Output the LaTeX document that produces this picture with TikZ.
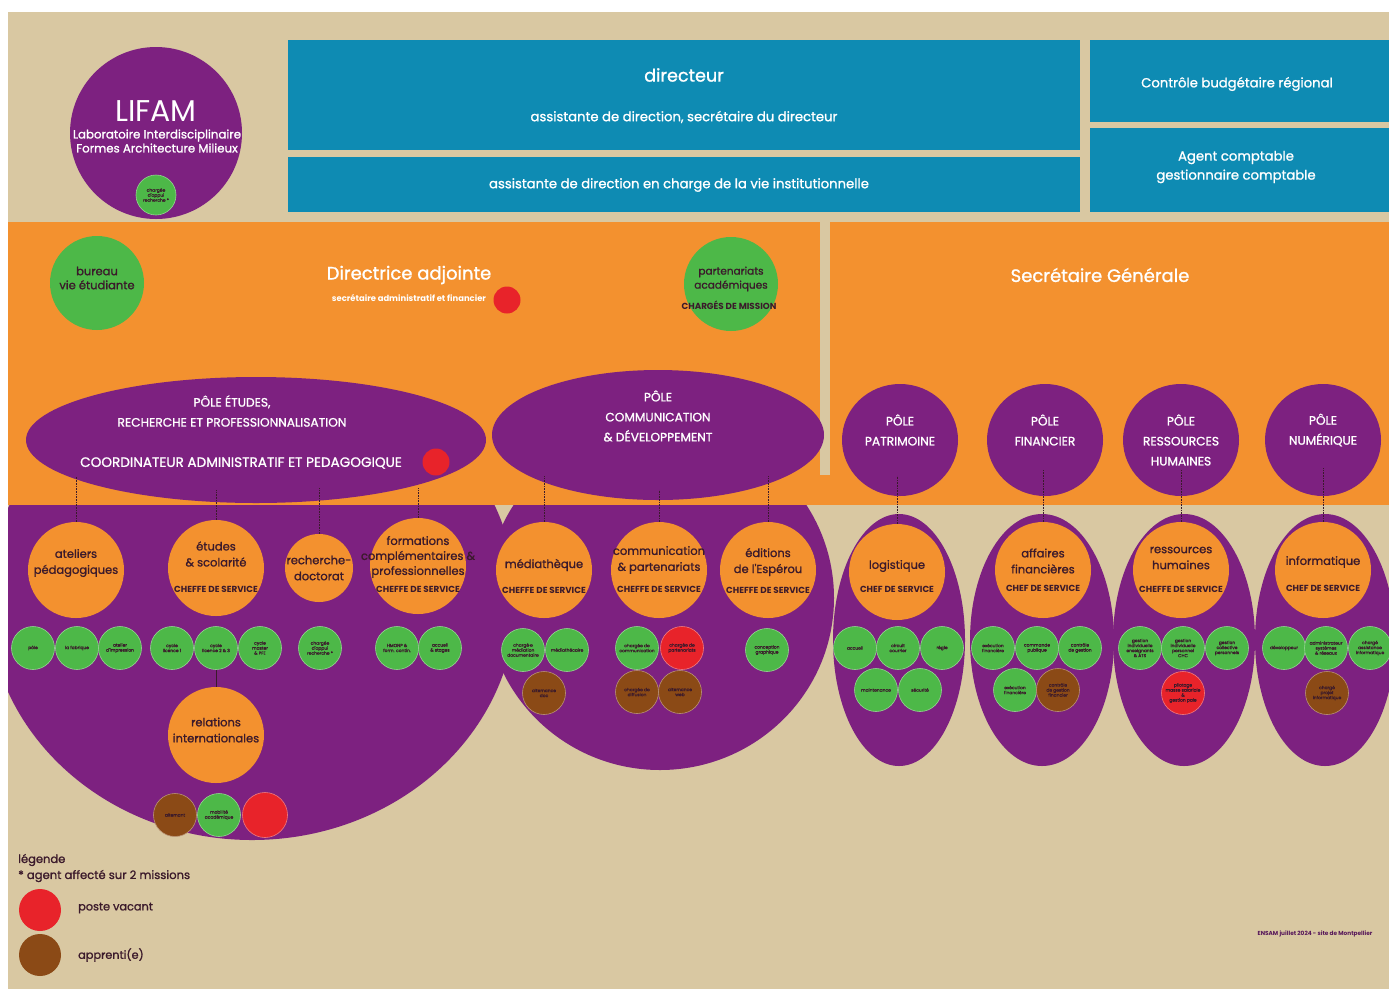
\documentclass[tikz,border=0pt]{standalone}
\usepackage{fontspec}
\setmainfont{Poppins}
\newfontfamily\pmfont{Poppins}[FakeBold=1.2]
\usetikzlibrary{shapes.geometric}
\definecolor{cbg}{HTML}{D9C8A2}
\definecolor{cblue}{HTML}{0E8BB3}
\definecolor{cpurple}{HTML}{7D2180}
\definecolor{corange}{HTML}{F3912F}
\definecolor{cgreen}{HTML}{4DB848}
\definecolor{cred}{HTML}{E8232A}
\definecolor{cbrown}{HTML}{8B4A16}
\definecolor{cdark}{HTML}{3B1A2B}
\begin{document}
\begin{tikzpicture}[x=1pt,y=-1pt,
  bluebox/.style={rectangle,fill=cblue,inner sep=0pt},
  wtext/.style={text=white,align=center,inner sep=0pt},
  dtext/.style={text=cdark,align=center,inner sep=0pt},
  pole/.style={ellipse,fill=cpurple,inner sep=0pt},
  ptext/.style={text=white,align=center,inner sep=0pt,font=\pmfont\fontsize{12.2}{20}\selectfont},
  svc/.style={circle,fill=corange,minimum size=96pt,inner sep=0pt},
  stext/.style={text=cdark,align=center,inner sep=0pt,font=\pmfont\fontsize{11.5}{16}\selectfont},
  role/.style={text=cdark,inner sep=0pt,font=\fontsize{8.8}{10}\selectfont\bfseries},
  agent/.style={circle,fill=cgreen,draw=cgreen!60!white,line width=0.6pt,minimum size=43pt,inner sep=0pt,align=center,text=cdark,font=\pmfont\fontsize{4.4}{5}\selectfont},
  vac/.style={agent,fill=cred,draw=cred!60!white},
  app/.style={agent,fill=cbrown,draw=cbrown!60!white},
  dotline/.style={draw=cdark,densely dotted,line width=0.6pt},
  link/.style={draw=cdark,line width=0.5pt}]
\useasboundingbox (0,0) rectangle (1389,989);
\fill[white] (0,0) rectangle (1389,989);
\fill[cbg] (8,12) rectangle (1389,989);

% lower purple blobs
\begin{scope}
\clip (8,12) rectangle (1389,989);
\fill[cpurple] (252,600) ellipse [x radius=264pt, y radius=240pt];
\fill[cpurple] (660,598) ellipse [x radius=174pt, y radius=172pt];
\fill[cpurple] (899,640) ellipse [x radius=66pt, y radius=126pt];
\fill[cpurple] (1042,640) ellipse [x radius=72pt, y radius=126pt];
\fill[cpurple] (1184,640) ellipse [x radius=71pt, y radius=126pt];
\fill[cpurple] (1325,640) ellipse [x radius=70pt, y radius=126pt];
\end{scope}

% orange band
\fill[corange] (8,222) rectangle (1389,505);
\fill[cbg] (820,222) rectangle (830,475);

% top blue boxes
\node[bluebox,minimum width=792pt,minimum height=110pt] (dirbox) at (684,95) {};
\node[wtext,font=\pmfont\fontsize{17.6}{18}\selectfont] (dirT) at (684,75) {directeur};
\node[wtext,font=\pmfont\fontsize{13.2}{14}\selectfont] (dirS) at (684,117) {assistante de direction, secrétaire du directeur};
\node[bluebox,minimum width=792pt,minimum height=55pt] (viebox) at (684,184.5) {};
\node[wtext,font=\pmfont\fontsize{13.2}{14}\selectfont] (vieT) at (679,185) {assistante de direction en charge de la vie institutionnelle};
\node[bluebox,minimum width=299pt,minimum height=82pt] (ctrlbox) at (1239.5,81) {};
\node[wtext,font=\pmfont\fontsize{13.2}{14}\selectfont] (ctrlT) at (1237,84) {Contrôle budgétaire régional};
\node[bluebox,minimum width=299pt,minimum height=84pt] (agbox) at (1239.5,170) {};
\node[wtext,font=\pmfont\fontsize{13.2}{19}\selectfont] (agT) at (1236,167) {Agent comptable\\gestionnaire comptable};

% LIFAM
\node[circle,fill=cpurple,minimum size=172pt,inner sep=0pt] (lifam) at (156,133) {};
\node[wtext,font=\fontsize{30}{32}\selectfont] (lifamT) at (156,111) {LIFAM};
\node[wtext,font=\pmfont\fontsize{11.8}{14}\selectfont] (lifamS) at (157,141) {Laboratoire Interdisciplinaire\\Formes Architecture Milieux};
\node[agent,minimum size=40pt] (lifamA) at (156,195) {chargée\\d'appui\\recherche *};

% orange band contents
\node[circle,fill=cgreen,minimum size=94pt,inner sep=0pt] (bve) at (97,283) {};
\node[dtext,font=\pmfont\fontsize{11.5}{14}\selectfont] (bveT) at (97,278) {bureau\\vie étudiante};
\node[wtext,font=\pmfont\fontsize{18}{18}\selectfont] (dadj) at (409,275) {Directrice adjointe};
\node[wtext,font=\fontsize{8.4}{9}\selectfont\bfseries] (dadjS) at (409,298) {secrétaire administratif et financier};
\node[circle,fill=cred,minimum size=27pt,inner sep=0pt] (dadjV) at (507,300) {};
\node[circle,fill=cgreen,minimum size=94pt,inner sep=0pt] (part) at (731,284) {};
\node[dtext,font=\pmfont\fontsize{10.5}{14}\selectfont] (partT) at (731,279) {partenariats\\académiques};
\node[role] (partR) at (729,305) {CHARGÉS DE MISSION};
\node[wtext,font=\pmfont\fontsize{18}{18}\selectfont] (sg) at (1100,275) {Secrétaire Générale};

% pôles
\node[pole,minimum width=460pt,minimum height=126pt] (pEtu) at (256,440) {};
\node[ptext] (pEtuT) at (232,411) {PÔLE ÉTUDES,\\RECHERCHE ET PROFESSIONNALISATION};
\node[ptext,font=\pmfont\fontsize{13.6}{14}\selectfont] (pEtuC) at (241,463) {COORDINATEUR ADMINISTRATIF ET PEDAGOGIQUE};
\node[circle,fill=cred,minimum size=27pt,inner sep=0pt] (pEtuV) at (436,462) {};
\node[pole,minimum width=332pt,minimum height=130pt] (pCom) at (658,435) {};
\node[ptext] (pComT) at (658,416) {PÔLE\\COMMUNICATION\\\& DÉVELOPPEMENT};
\node[pole,minimum width=116pt,minimum height=112pt] (pPat) at (900,440) {};
\node[ptext] (pPatT) at (900,430) {PÔLE\\PATRIMOINE};
\node[pole,minimum width=116pt,minimum height=112pt] (pFin) at (1045,440) {};
\node[ptext] (pFinT) at (1045,430) {PÔLE\\FINANCIER};
\node[pole,minimum width=116pt,minimum height=112pt] (pRH) at (1181,440) {};
\node[ptext] (pRHT) at (1181,440) {PÔLE\\RESSOURCES\\HUMAINES};
\node[pole,minimum width=116pt,minimum height=112pt] (pNum) at (1323,440) {};
\node[ptext] (pNumT) at (1323,430) {PÔLE\\NUMÉRIQUE};

% services
\node[svc] (atel) at (76,570) {};
\node[stext] (atelT) at (76,563) {ateliers\\pédagogiques};
\node[svc] (etud) at (216,568) {};
\node[stext] (etudT) at (216,554) {études\\\& scolarité};
\node[role] (etudR) at (216,589) {CHEFFE DE SERVICE};
\node[svc,minimum size=68pt] (rech) at (319,568) {};
\node[stext] (rechT) at (319,568) {recherche-\\doctorat};
\node[svc] (form) at (418,566) {};
\node[stext,font=\pmfont\fontsize{11.5}{15}\selectfont] (formT) at (418,557) {formations\\complémentaires \&\\professionnelles};
\node[role] (formR) at (418,589) {CHEFFE DE SERVICE};
\node[svc] (med) at (544,570) {};
\node[stext] (medT) at (544,565) {médiathèque};
\node[role] (medR) at (544,590) {CHEFFE DE SERVICE};
\node[svc] (comm) at (659,570) {};
\node[stext] (commT) at (659,560) {communication\\\& partenariats};
\node[role] (commR) at (659,589) {CHEFFE DE SERVICE};
\node[svc] (edit) at (768,570) {};
\node[stext] (editT) at (768,562) {éditions\\de l'Espérou};
\node[role] (editR) at (768,590) {CHEFFE DE SERVICE};
\node[svc] (log) at (897,572) {};
\node[stext] (logT) at (897,566) {logistique};
\node[role] (logR) at (897,589) {CHEF DE SERVICE};
\node[svc] (aff) at (1043,570) {};
\node[stext] (affT) at (1043,561) {affaires\\financières};
\node[role] (affR) at (1043,588) {CHEF DE SERVICE};
\node[svc] (rh) at (1181,570) {};
\node[stext] (rhT) at (1181,558) {ressources\\humaines};
\node[role] (rhR) at (1181,589) {CHEFFE DE SERVICE};
\node[svc] (info) at (1323,570) {};
\node[stext] (infoT) at (1323,562) {informatique};
\node[role] (infoR) at (1323,588) {CHEF DE SERVICE};
\node[svc] (ri) at (216,735) {};
\node[stext] (riT) at (216,730) {relations\\internationales};

% dotted links from pôles
\draw[dotline] (atel.north) -- ++(0,-45);
\draw[dotline] (etud.north) -- ++(0,-30);
\draw[dotline] (rech.north) -- ++(0,-46);
\draw[dotline] (form.north) -- ++(0,-30);
\draw[dotline] (med.north) -- ++(0,-46);
\draw[dotline] (comm.north) -- ++(0,-32);
\draw[dotline] (edit.north) -- ++(0,-46);
\draw[dotline] (log.north) -- ++(0,-48);
\draw[dotline] (aff.north) -- ++(0,-52);
\draw[dotline] (rh.north) -- ++(0,-52);
\draw[dotline] (info.north) -- ++(0,-54);

% agents
\node[agent] (a1) at (33,648) {pôle};
\node[agent] (a2) at (77,648) {la fabrique};
\node[agent] (a3) at (120,648) {atelier\\d'impression};
\node[agent] (e1) at (172,648) {cycle\\licence 1};
\node[agent] (e2) at (216,648) {cycle\\licence 2 \& 3};
\node[agent] (e3) at (260,648) {cycle\\master\\\& PFE};
\node[agent] (r1) at (320,648) {chargée\\d'appui\\recherche *};
\node[agent] (f1) at (397,648) {HMONP \&\\form. contin.};
\node[agent] (f2) at (440,648) {accueil\\\& stages};
\node[agent] (m1) at (523,650) {chargé·e\\médiation\\documentaire};
\node[agent] (m2) at (567,650) {médiathécaire};
\node[app] (m3) at (544,693) {alternance\\doc};
\node[agent] (c1) at (637,648) {chargée de\\communication};
\node[vac] (c2) at (682,648) {chargée de\\partenariats};
\node[app] (c3) at (637,692) {chargée de\\diffusion};
\node[app] (c4) at (680,692) {alternance\\web};
\node[agent] (d1) at (767,650) {conception\\graphique};
\node[agent] (l1) at (855,648) {accueil};
\node[agent] (l2) at (898,648) {circuit\\courrier};
\node[agent] (l3) at (942,648) {régie};
\node[agent] (l4) at (876,690) {maintenance};
\node[agent] (l5) at (920,690) {sécurité};
\node[agent] (af1) at (993,648) {exécution\\financière};
\node[agent] (af2) at (1037,648) {commande\\publique};
\node[agent] (af3) at (1080,648) {contrôle\\de gestion};
\node[agent] (af4) at (1015,690) {exécution\\financière};
\node[app] (af5) at (1058,690) {contrôle\\de gestion\\financier};
\node[agent] (h1) at (1140,648) {gestion\\individuelle\\enseignants\\\& ATS};
\node[agent] (h2) at (1183,648) {gestion\\individuelle\\personnel\\CHC};
\node[agent] (h3) at (1227,648) {gestion\\collective\\personnels};
\node[vac] (h4) at (1183,693) {pilotage\\masse salariale\\\&\\gestion paie};
\node[agent] (i1) at (1284,648) {développeur};
\node[agent] (i2) at (1326,648) {administrateur\\systèmes\\\& réseaux};
\node[agent] (i3) at (1370,648) {chargé\\assistance\\informatique};
\node[app] (i4) at (1327,693) {chargé\\projet\\informatique};
\node[app] (ri1) at (175,815) {alternant};
\node[agent] (ri2) at (219,815) {mobilité\\académique};
\node[vac,minimum size=45pt] (ri3) at (265,815) {};

\draw[link] (e2.south) -- (ri.north);

% legend
\node[dtext,anchor=west,font=\pmfont\fontsize{11.5}{13}\selectfont] (leg) at (18,860) {légende};
\node[dtext,anchor=west,font=\pmfont\fontsize{11.6}{13}\selectfont] (leg2) at (18,876) {* agent affecté sur 2 missions};
\node[circle,fill=cred,minimum size=42pt,inner sep=0pt] (legV) at (40,910) {};
\node[dtext,anchor=west,font=\pmfont\fontsize{11.3}{13}\selectfont] (legVT) at (78,908) {poste vacant};
\node[circle,fill=cbrown,minimum size=42pt,inner sep=0pt] (legA) at (40,955) {};
\node[dtext,anchor=west,font=\pmfont\fontsize{11.3}{13}\selectfont] (legAT) at (78,955) {apprenti(e)};
\node[text=cpurple!70!black,inner sep=0pt,font=\fontsize{5.8}{7}\selectfont\bfseries] (foot) at (1315,934) {ENSAM juillet 2024 - site de Montpellier};
\end{tikzpicture}
\end{document}
